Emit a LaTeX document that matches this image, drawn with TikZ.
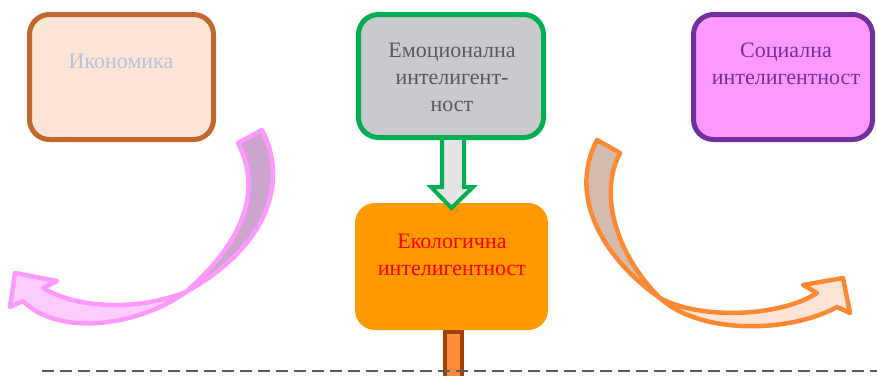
\documentclass[tikz,border=0pt]{standalone}
\usepackage{fontspec}
\setmainfont{Liberation Serif}
\usetikzlibrary{calc}
\definecolor{brownline}{HTML}{C0662E}
\definecolor{peach}{HTML}{FDE5D6}
\definecolor{paleblue}{HTML}{B4C1DE}
\definecolor{greenline}{HTML}{00B050}
\definecolor{cloud}{HTML}{C9CACE}
\definecolor{darkgray}{HTML}{595959}
\definecolor{purpleline}{HTML}{7030A0}
\definecolor{pinkfill}{HTML}{FF99FF}
\definecolor{orangefill}{HTML}{FF9900}
\definecolor{pinkback}{HTML}{CBA3CB}
\definecolor{pinkfront}{HTML}{FFCCFF}
\definecolor{orangeline}{HTML}{FF8833}
\definecolor{tanback}{HTML}{D3BCAE}
\definecolor{barfill}{HTML}{FF8C3C}
\definecolor{barline}{HTML}{A0410A}
\definecolor{arrowgray}{HTML}{E4E4E6}
\tikzset{
  card/.style={rectangle, rounded corners=20pt, line width=5pt, inner sep=0pt},
  label/.style={align=center, font=\fontsize{22}{27}\selectfont},
  bandedge/.style={line width=4.5pt, line join=round},
}
\begin{document}
\begin{tikzpicture}[x=1pt, y=-1pt]
  \useasboundingbox (0,0) rectangle (877,375);

  % the four cards
  \node[card, draw=brownline, fill=peach, minimum width=184pt, minimum height=125pt] (iko) at (121.5,77) {};
  \node[card, draw=greenline, fill=cloud, minimum width=185pt, minimum height=123pt] (emo) at (451,76) {};
  \node[card, draw=purpleline, fill=pinkfill, minimum width=179pt, minimum height=125pt] (soc) at (783,77) {};
  \node[card, fill=orangefill, line width=0pt, minimum width=193pt, minimum height=127pt] (eco) at (451.5,266.5) {};

  % card texts
  \node[label, text=paleblue] (ikotxt) at (121,61) {Икономика};
  \node[label, text=darkgray] (emotxt) at (452,77) {Емоционална\\интелигент-\\ност};
  \node[label, text=purpleline] (soctxt) at (786,64) {Социална\\интелигентност};
  \node[label, text=red] (ecotxt) at (452,254.5) {Екологична\\интелигентност};

  % block arrow from the emotional card down to the ecological card
  \draw[greenline, fill=arrowgray, line width=4pt, line join=miter]
    ($(emo.south)+(-9,0)$) -- ($(emo.south)+(-9,47)$) -- ($(emo.south)+(-20,47)$)
    -- ($(eco.north)+(0,5)$)
    -- ($(emo.south)+(22,47)$) -- ($(emo.south)+(13,47)$) -- ($(emo.south)+(13,0)$);

  % left curved arrow (pink)
  \coordinate (lx) at (186,292);
  \fill[pinkback] (238,143) -- (262,130) .. controls (288,180) and (270,245) .. (lx)
    .. controls (256,230) and (257,180) .. cycle;
  \draw[pinkfill, bandedge] (238,143) -- (262,130) .. controls (288,180) and (270,245) .. (lx)
    .. controls (256,230) and (257,180) .. cycle;
  \draw[pinkfill, fill=pinkfront, bandedge] (lx)
    .. controls (140,325) and (60,338) .. (23,301) -- (10,307) -- (15,273) -- (57,281) -- (43,288)
    .. controls (80,310) and (140,310) .. cycle;

  % right curved arrow (orange)
  \coordinate (rx) at (660,298);
  \draw[orangeline, fill=tanback, bandedge] (597,140) -- (620,153)
    .. controls (600,190) and (612,250) .. (rx)
    .. controls (608,262) and (566,200) .. cycle;
  \draw[orangeline, fill=peach, bandedge] (rx)
    .. controls (700,335) and (790,333) .. (837,307) -- (850,313) -- (843,278) -- (803,285) -- (817,293)
    .. controls (780,317) and (700,320) .. cycle;

  % bar below the ecological card
  \node[rectangle, draw=barline, fill=barfill, line width=4pt, minimum width=17pt, minimum height=60pt, inner sep=0pt, anchor=north] (bar) at ($(eco.south)+(2,0)$) {};

  % dashed ground line
  \coordinate (gl) at (42,371);
  \coordinate (gr) at (877,371);
  \draw[darkgray, line width=2pt, dash pattern=on 12pt off 6pt] (gl) -- (gr);
\end{tikzpicture}
\end{document}
